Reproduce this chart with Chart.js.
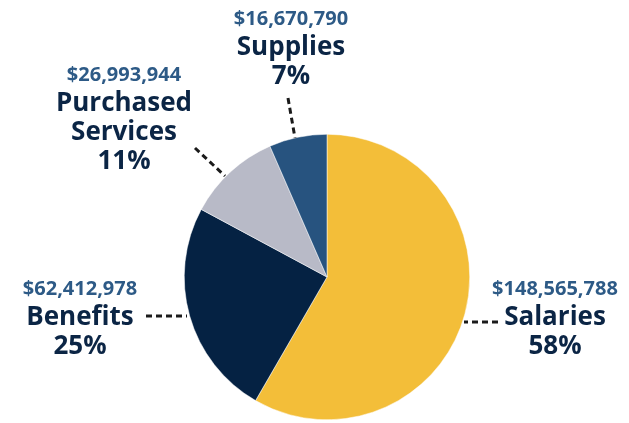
<!DOCTYPE html>
<html>
<head>
<meta charset="utf-8">
<script src="https://cdn.jsdelivr.net/npm/chart.js@4"></script>
<style>
  html, body { margin: 0; padding: 0; background: #fff; }
  #wrap { width: 629px; height: 423px; }
</style>
</head>
<body>
<div id="wrap"><canvas id="pie" width="629" height="423"></canvas></div>
<script>
const categories = ['Salaries', 'Benefits', 'Purchased Services', 'Supplies'];
const amounts = [148565788, 62412978, 26993944, 16670790];
const sliceColors = ['#F3BE39', '#052243', '#B8BAC7', '#27537F'];

// where each label sits and where its dashed leader goes (pixels)
const labelSpots = [
  { x: 555, y: 289, lines: ['Salaries'], line: [[498, 322], [464, 322]] },
  { x: 80, y: 289, lines: ['Benefits'], line: [[146, 316], [187, 316]] },
  { x: 124, y: 75, lines: ['Purchased', 'Services'], line: [[195, 148], [225, 176]] },
  { x: 291, y: 19, lines: ['Supplies'], line: [[288, 98], [295, 138]] },
];

const total = amounts.reduce((a, b) => a + b, 0);

const labelPlugin = {
  id: 'calloutLabels',
  afterDraw(chart) {
    const ctx = chart.ctx;
    ctx.save();
    ctx.textAlign = 'center';
    ctx.textBaseline = 'middle';
    labelSpots.forEach((s, i) => {
      // leader
      ctx.strokeStyle = '#1a1a1a';
      ctx.lineWidth = 3;
      ctx.setLineDash([6, 4]);
      ctx.beginPath();
      ctx.moveTo(s.line[0][0], s.line[0][1]);
      ctx.lineTo(s.line[1][0], s.line[1][1]);
      ctx.stroke();
      ctx.setLineDash([]);

      let y = s.y;
      ctx.fillStyle = '#2D5A86';
      ctx.font = 'bold 20px "Open Sans"';
      ctx.fillText('$' + amounts[i].toLocaleString('en-US'), s.x, y);
      y += 29;
      ctx.fillStyle = '#0B2545';
      ctx.font = 'bold 26px "Open Sans"';
      s.lines.forEach(t => {
        ctx.fillText(t, s.x, y);
        y += 29;
      });
      ctx.fillText(Math.round(amounts[i] / total * 100) + '%', s.x, y);
    });
    ctx.restore();
  }
};

new Chart(document.getElementById('pie'), {
  type: 'pie',
  data: {
    labels: categories,
    datasets: [{
      data: amounts,
      backgroundColor: sliceColors,
      borderColor: '#ffffff',
      borderWidth: 0.5,
    }],
  },
  options: {
    responsive: false,
    animation: false,
    layout: { padding: { top: 134, bottom: 3, left: 184, right: 159 } },
    plugins: {
      legend: { display: false },
      tooltip: { enabled: false },
    },
  },
  plugins: [labelPlugin],
});
</script>
</body>
</html>
